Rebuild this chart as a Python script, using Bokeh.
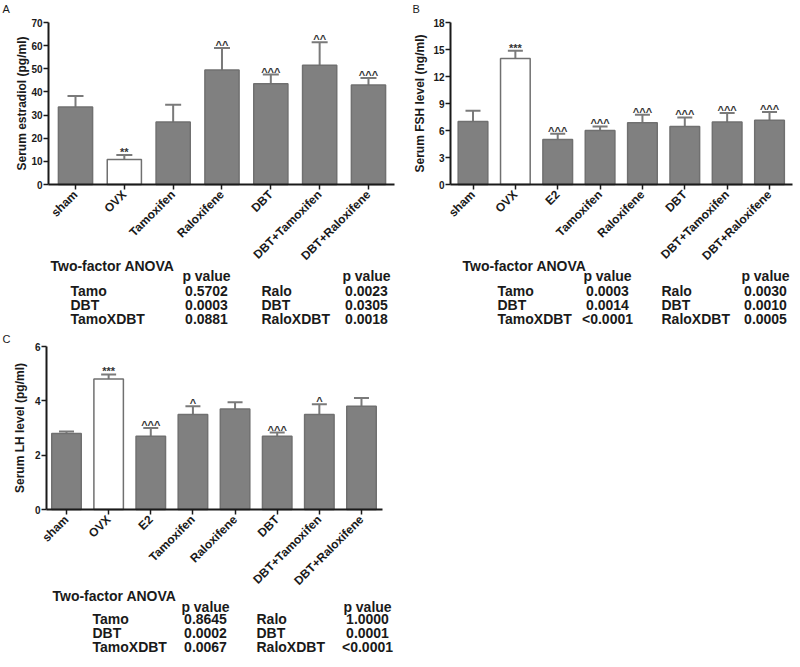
import math
from bokeh.plotting import figure
from bokeh.models import ColumnDataSource, Range1d, FixedTicker, Whisker, TeeHead
from bokeh.layouts import column, row
from bokeh.embed import file_html
from bokeh.resources import INLINE
from bokeh.core.properties import value

FONT = "Liberation Sans"
INK = "#1a1a1a"
BAR = "#808080"

# ---------------- data ----------------
a_groups = ["sham", "OVX", "Tamoxifen", "Raloxifene", "DBT", "DBT+Tamoxifen", "DBT+Raloxifene"]
a_means = [33.5, 10.8, 27.0, 49.5, 43.5, 51.5, 43.0]
a_sem = [4.7, 2.0, 7.5, 9.5, 4.0, 10.0, 3.0]
a_marks = ["", "**", "", "^^", "^^^", "^^", "^^^"]
a_ticks = [0, 10, 20, 30, 40, 50, 60, 70]

b_groups = ["sham", "OVX", "E2", "Tamoxifen", "Raloxifene", "DBT", "DBT+Tamoxifen", "DBT+Raloxifene"]
b_means = [7.0, 14.0, 5.0, 6.0, 6.85, 6.45, 6.95, 7.15]
b_sem = [1.2, 0.85, 0.65, 0.45, 0.9, 1.0, 1.0, 0.9]
b_marks = ["", "***", "^^^", "^^^", "^^^", "^^^", "^^^", "^^^"]
b_ticks = [0, 3, 6, 9, 12, 15, 18]

c_groups = ["sham", "OVX", "E2", "Tamoxifen", "Raloxifene", "DBT", "DBT+Tamoxifen", "DBT+Raloxifene"]
c_means = [2.8, 4.8, 2.7, 3.5, 3.7, 2.7, 3.5, 3.8]
c_sem = [0.07, 0.17, 0.3, 0.3, 0.25, 0.13, 0.37, 0.3]
c_marks = ["", "***", "^^^", "^", "", "^^^", "^", ""]
c_ticks = [0, 2, 4, 6]

anova_title = "Two-factor ANOVA"
p_header = "p value"
tamo_terms = ["Tamo", "DBT", "TamoXDBT"]
ralo_terms = ["Ralo", "DBT", "RaloXDBT"]
a_p_tamo = ["0.5702", "0.0003", "0.0881"]
a_p_ralo = ["0.0023", "0.0305", "0.0018"]
b_p_tamo = ["0.0003", "0.0014", "<0.0001"]
b_p_ralo = ["0.0030", "0.0010", "0.0005"]
c_p_tamo = ["0.8645", "0.0002", "0.0067"]
c_p_ralo = ["1.0000", "0.0001", "<0.0001"]


def make_panel(letter, groups, means, sems, marks, ticks, ytitle, p_tamo, p_ralo, g):
    n = len(groups)
    idx = list(range(n))
    W, H = g["w"], g["h"]
    s, c0 = g["s"], g["c0"]
    y0, y1 = ticks[0], ticks[-1]
    k = (g["py0"] - g["py1"]) / (y1 - y0)          # pixels per data unit

    def X(px):
        return (px - c0) / s

    def Y(py):
        return y0 + (g["py0"] - py) / k

    p = figure(x_range=Range1d(X(0), X(W)), y_range=Range1d(Y(H), Y(0)),
               width=W, height=H, output_backend="svg", toolbar_location=None,
               min_border=0, min_border_left=0, min_border_right=0,
               min_border_top=0, min_border_bottom=0)
    p.outline_line_color = None
    p.grid.visible = False
    p.background_fill_color = "white"
    p.border_fill_color = "white"

    upper = [m + e for m, e in zip(means, sems)]
    fills = ["white" if grp == "OVX" else BAR for grp in groups]
    src = ColumnDataSource(dict(x=idx, top=means, upper=upper, fill=fills, mark=marks))

    p.vbar(x="x", top="top", bottom=0, width=0.7, source=src, fill_color="fill",
           line_color="#707070", line_width=1.5)
    p.add_layout(Whisker(source=src, base="x", upper="upper", lower="top",
                         upper_head=TeeHead(size=g["cap"], line_color="#7a7a7a", line_width=2),
                         lower_head=None, line_color="#7a7a7a", line_width=2))
    p.text(x="x", y="upper", text="mark", source=src, text_align="center",
           text_baseline="alphabetic", y_offset=-3, text_font=value(FONT),
           text_font_size="11px", text_font_style="bold", text_color="#333333")

    # axes (drawn at fixed positions inside the panel)
    p.xaxis.fixed_location = y0
    p.xaxis.bounds = (X(g["ax0"]), X(g["ax1"]))
    p.xaxis.ticker = FixedTicker(ticks=idx)
    p.xaxis.major_label_overrides = {i: name for i, name in enumerate(groups)}
    p.xaxis.minor_tick_line_color = None
    p.yaxis.fixed_location = X(g["ax0"])
    p.yaxis.bounds = (y0, y1)
    p.yaxis.ticker = FixedTicker(ticks=ticks)
    p.yaxis.minor_tick_line_color = None
    for ax in (p.xaxis, p.yaxis):
        ax.axis_line_color = INK
        ax.axis_line_width = 2
        ax.major_tick_line_color = INK
        ax.major_tick_line_width = 1.5
        ax.major_tick_out = 5
        ax.major_tick_in = 0
        ax.major_label_text_font = FONT
        ax.major_label_text_font_style = "bold"
        ax.major_label_text_color = INK
    p.yaxis.major_label_text_font_size = "10px"
    p.yaxis.major_label_standoff = 1
    p.xaxis.major_label_orientation = math.pi / 4
    p.xaxis.major_label_text_font_size = "12px"
    p.xaxis.major_label_standoff = 3

    # y-axis title
    p.text(x=[X(g["tcx"])], y=[Y(g["tcy"])], text=[ytitle], angle=math.pi / 2,
           text_align="center", text_baseline="middle", text_font=value(FONT),
           text_font_size="12px", text_font_style="bold", text_color=INK)

    # panel letter
    p.text(x=[X(g["lx"])], y=[Y(g["ly"])], text=[letter], text_align="left",
           text_baseline="top", text_font=value(FONT), text_font_size="11px",
           text_color=INK)

    # ANOVA table
    ty = g["ty"]
    tstyle = dict(text_font=value(FONT), text_font_size="14px", text_font_style="bold",
                  text_color=INK, text_baseline="alphabetic")
    p.text(x=[X(g["tx0"])], y=[Y(ty[0])], text=[anova_title], text_align="left", **tstyle)
    p.text(x=[X(g["tv1"]), X(g["tv2"])], y=[Y(ty[1])] * 2, text=[p_header, p_header],
           text_align="center", **tstyle)
    rows_y = [Y(v) for v in ty[2:]]
    p.text(x=[X(g["tl1"])] * 3 + [X(g["tl2"])] * 3, y=rows_y + rows_y,
           text=tamo_terms + ralo_terms, text_align="left", **tstyle)
    p.text(x=[X(g["tv1"])] * 3 + [X(g["tv2"])] * 3, y=rows_y + rows_y,
           text=p_tamo + p_ralo, text_align="center", **tstyle)
    return p


# panel geometry, in pixels local to each panel (top-left origin)
gA = dict(w=400, h=330, s=48.83, c0=75.0, ax0=48, ax1=394, py0=184, py1=22, cap=16,
          tcx=21, tcy=103, lx=2, ly=2,
          ty=[265, 275.5, 290, 304, 318], tx0=50, tv1=206, tv2=366, tl1=70, tl2=261)
gB = dict(w=400, h=330, s=42.36, c0=72.5, ax0=50, ax1=392, py0=184, py1=22, cap=15,
          tcx=19, tcy=103, lx=12, ly=2,
          ty=[265, 275.5, 290, 304, 318], tx0=62, tv1=207, tv2=365, tl1=97, tl2=261)
gC = dict(w=400, h=337, s=42.14, c0=66.0, ax0=46, ax1=382, py0=179, py1=16, cap=15,
          tcx=19, tcy=97.5, lx=2, ly=2,
          ty=[265, 276, 288, 302, 316], tx0=52, tv1=205, tv2=367, tl1=92, tl2=256)

pA = make_panel("A", a_groups, a_means, a_sem, a_marks, a_ticks, "Serum estradiol (pg/ml)",
                a_p_tamo, a_p_ralo, gA)
pB = make_panel("B", b_groups, b_means, b_sem, b_marks, b_ticks, "Serum FSH level (ng/ml)",
                b_p_tamo, b_p_ralo, gB)
pC = make_panel("C", c_groups, c_means, c_sem, c_marks, c_ticks, "Serum LH level (pg/ml)",
                c_p_tamo, c_p_ralo, gC)

layout = column(row(pA, pB), pC)
open("out.html", "w").write(file_html(layout, INLINE))
